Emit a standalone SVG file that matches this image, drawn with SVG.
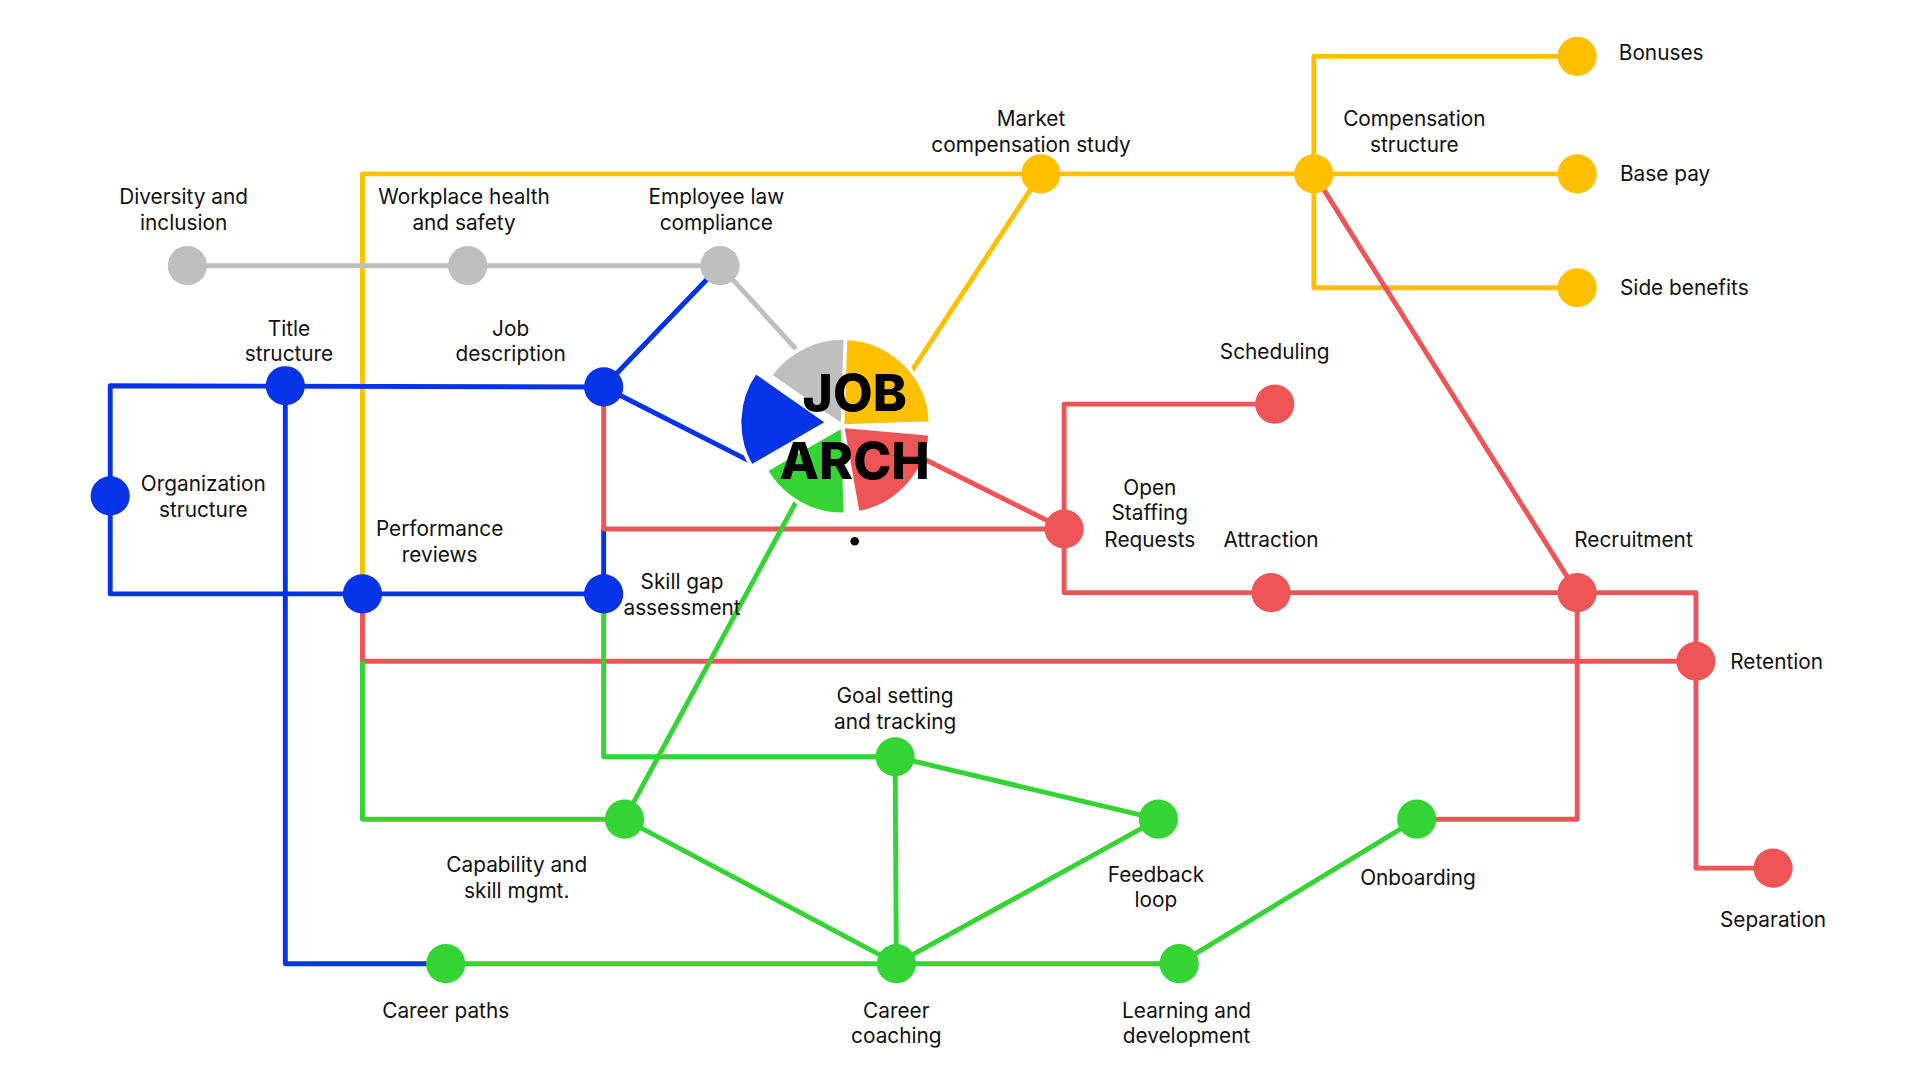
<svg xmlns="http://www.w3.org/2000/svg" width="1920" height="1080" viewBox="0 0 1920 1080">
<style>
.l{fill:none;stroke-width:4;stroke-linejoin:round}
.y{stroke:#FFC000}.g{stroke:#BFBFBF}.b{stroke:#0533E8}.r{stroke:#EF5456}.n{stroke:#35D435}
.t{font-family:Inter,"Liberation Sans",sans-serif;font-size:17px;fill:#111;text-anchor:middle}
.s{text-anchor:start}
</style>
<rect width="1920" height="1080" fill="#fff"/>
<g transform="scale(1.2245)">
<g id="connectors">
<path class="l y" d="M296,485 L296,142 L1288,142"/>
<path class="l y" d="M1288,46 L1073,46 L1073,235 L1288,235"/>
<path class="l y" d="M850,142 L740,310"/>
<path class="l g" d="M153,217 L588,217 L650,285"/>
<path class="l b" d="M90,405 L90,315 L493,316 L588,217"/>
<path class="l b" d="M493,316 L615,378"/>
<path class="l b" d="M90,405 L90,485 L493,485 L493,432"/>
<path class="l b" d="M233,315 L233,787 L364,787"/>
<path class="l r" d="M493,316 L493,432 L869,432 L755,375"/>
<path class="l r" d="M1041,330 L869,330 L869,484 L1385,484 L1385,540"/>
<path class="l r" d="M296,485 L296,540 L1385,540 L1385,709 L1448,709"/>
<path class="l r" d="M1073,142 L1288,484 L1288,669 L1157,669"/>
<path class="l n" d="M296,540 L296,669 L510,669"/>
<path class="l n" d="M493,485 L493,618 L731,618 L946,669 L732,787 L731,618"/>
<path class="l n" d="M510,669 L650,410"/>
<path class="l n" d="M510,669 L732,787"/>
<path class="l n" d="M364,787 L963,787 L1157,669"/>
</g>
<g id="logo" stroke="#fff" stroke-width="3">
<path fill="#0533E8" d="M676,345 L613.6,381 A72,72 0 0 1 617,303.7 Z"/>
<path fill="#BFBFBF" d="M688,348 L629,306.7 A72,72 0 0 1 694.3,276.3 Z"/>
<path fill="#FFC000" d="M688,348 L690.5,276.1 A72,72 0 0 1 760,345.5 Z"/>
<path fill="#EF5456" d="M688,348 L759.7,354.3 A72,72 0 0 1 700.5,418.9 Z"/>
<path fill="#35D435" d="M688,348 L690.5,420 A72,72 0 0 1 625.6,384 Z"/>
<text x="698" y="336" stroke="none" font-family="Inter,'Liberation Sans',sans-serif" font-weight="800" font-size="42" text-anchor="middle" fill="#000">JOB</text>
<text x="698" y="391" stroke="none" font-family="Inter,'Liberation Sans',sans-serif" font-weight="800" font-size="42" text-anchor="middle" fill="#000">ARCH</text>
<circle cx="698" cy="442" r="3.5" fill="#000" stroke="none"/>
</g>
<g id="n-market"><circle cx="850" cy="142" r="16" fill="#FFC000"/><text class="t" x="842" y="103">Market</text><text class="t" x="842" y="124">compensation study</text></g>
<g id="n-comp"><circle cx="1073" cy="142" r="16" fill="#FFC000"/><text class="t" x="1155" y="103">Compensation</text><text class="t" x="1155" y="124">structure</text></g>
<g id="n-bonuses"><circle cx="1288" cy="46" r="16" fill="#FFC000"/><text class="t s" x="1322" y="49">Bonuses</text></g>
<g id="n-base"><circle cx="1288" cy="142" r="16" fill="#FFC000"/><text class="t s" x="1323" y="148">Base pay</text></g>
<g id="n-side"><circle cx="1288" cy="235" r="16" fill="#FFC000"/><text class="t s" x="1323" y="241">Side benefits</text></g>
<g id="n-diversity"><circle cx="153" cy="217" r="16" fill="#BFBFBF"/><text class="t" x="150" y="167">Diversity and</text><text class="t" x="150" y="188">inclusion</text></g>
<g id="n-health"><circle cx="382" cy="217" r="16" fill="#BFBFBF"/><text class="t" x="379" y="167">Workplace health</text><text class="t" x="379" y="188">and safety</text></g>
<g id="n-law"><circle cx="588" cy="217" r="16" fill="#BFBFBF"/><text class="t" x="585" y="167">Employee law</text><text class="t" x="585" y="188">compliance</text></g>
<g id="n-title"><circle cx="233" cy="315" r="16" fill="#0533E8"/><text class="t" x="236" y="274">Title</text><text class="t" x="236" y="295">structure</text></g>
<g id="n-jobdesc"><circle cx="493" cy="316" r="16" fill="#0533E8"/><text class="t" x="417" y="274">Job</text><text class="t" x="417" y="295">description</text></g>
<g id="n-org"><circle cx="90" cy="405" r="16" fill="#0533E8"/><text class="t" x="166" y="401">Organization</text><text class="t" x="166" y="422">structure</text></g>
<g id="n-perf"><circle cx="296" cy="485" r="16" fill="#0533E8"/><text class="t" x="359" y="438">Performance</text><text class="t" x="359" y="459">reviews</text></g>
<g id="n-skillgap"><circle cx="493" cy="485" r="16" fill="#0533E8"/><text class="t" x="557" y="481">Skill gap</text><text class="t" x="557" y="502">assessment</text></g>
<g id="n-open"><circle cx="869" cy="432" r="16" fill="#EF5456"/><text class="t" x="939" y="404">Open</text><text class="t" x="939" y="425">Staffing</text><text class="t" x="939" y="447">Requests</text></g>
<g id="n-sched"><circle cx="1041" cy="330" r="16" fill="#EF5456"/><text class="t" x="1041" y="293">Scheduling</text></g>
<g id="n-attr"><circle cx="1038" cy="484" r="16" fill="#EF5456"/><text class="t" x="1038" y="447">Attraction</text></g>
<g id="n-recr"><circle cx="1288" cy="484" r="16" fill="#EF5456"/><text class="t" x="1334" y="447">Recruitment</text></g>
<g id="n-ret"><circle cx="1385" cy="540" r="16" fill="#EF5456"/><text class="t s" x="1413" y="546">Retention</text></g>
<g id="n-sep"><circle cx="1448" cy="709" r="16" fill="#EF5456"/><text class="t" x="1448" y="757">Separation</text></g>
<g id="n-cap"><circle cx="510" cy="669" r="16" fill="#35D435"/><text class="t" x="422" y="712">Capability and</text><text class="t" x="422" y="733">skill mgmt.</text></g>
<g id="n-goal"><circle cx="731" cy="618" r="16" fill="#35D435"/><text class="t" x="731" y="574">Goal setting</text><text class="t" x="731" y="595">and tracking</text></g>
<g id="n-feedback"><circle cx="946" cy="669" r="16" fill="#35D435"/><text class="t" x="944" y="720">Feedback</text><text class="t" x="944" y="741">loop</text></g>
<g id="n-onb"><circle cx="1157" cy="669" r="16" fill="#35D435"/><text class="t" x="1158" y="723">Onboarding</text></g>
<g id="n-paths"><circle cx="364" cy="787" r="16" fill="#35D435"/><text class="t" x="364" y="831">Career paths</text></g>
<g id="n-coach"><circle cx="732" cy="787" r="16" fill="#35D435"/><text class="t" x="732" y="831">Career</text><text class="t" x="732" y="852">coaching</text></g>
<g id="n-learn"><circle cx="963" cy="787" r="16" fill="#35D435"/><text class="t" x="969" y="831">Learning and</text><text class="t" x="969" y="852">development</text></g>
</g>
</svg>
